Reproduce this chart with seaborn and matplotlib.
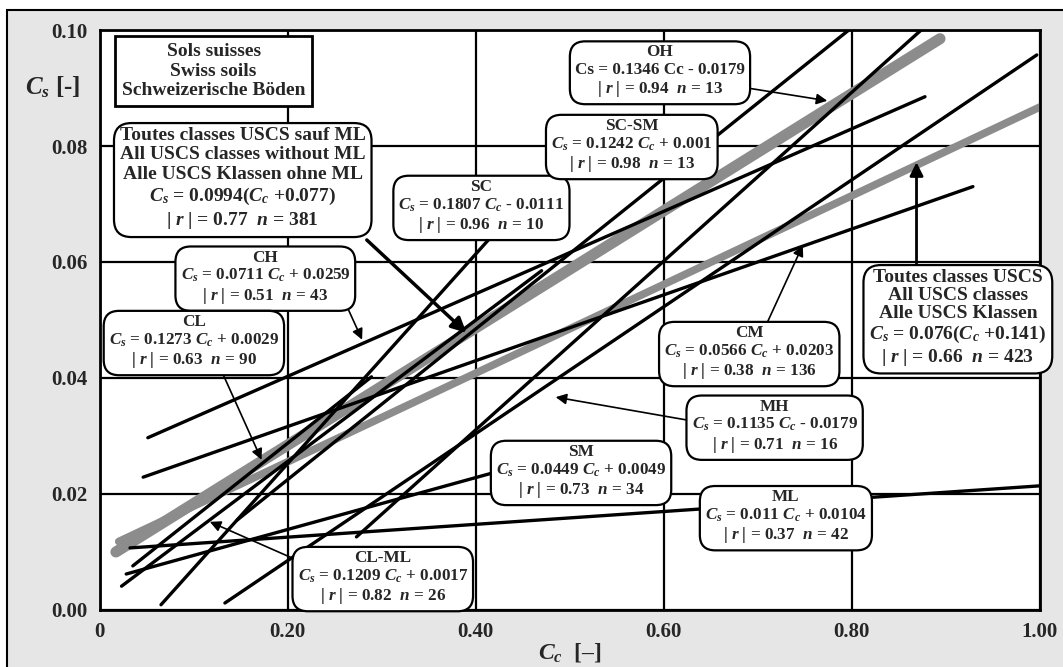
import numpy as np
import pandas as pd
import seaborn as sns
import matplotlib
matplotlib.use('Agg')
import matplotlib.pyplot as plt
from matplotlib.patches import Rectangle

# regression lines (Cc, Cs end points)
classes = ['OH', 'SC-SM', 'SC', 'CH', 'CL', 'CM', 'MH', 'SM', 'ML', 'CL-ML']
cc_start = [0.273, 0.146, 0.065, 0.051, 0.035, 0.046, 0.133, 0.028, 0.032, 0.023]
cs_start = [0.0126, 0.0155, 0.0009, 0.0297, 0.0076, 0.0229, 0.0012, 0.0062, 0.0107, 0.0041]
cc_end = [0.874, 0.797, 0.420, 0.878, 0.289, 0.929, 0.997, 0.500, 1.000, 0.470]
cs_end = [0.1000, 0.1000, 0.0650, 0.0885, 0.0402, 0.0730, 0.0957, 0.0273, 0.0214, 0.0585]

# the two grey "all classes" lines
all_noml_cc = [0.017, 0.894]
all_noml_cs = [0.0100, 0.0985]
all_cc = [0.020, 1.000]
all_cs = [0.0118, 0.0867]

xticks = [0, 0.2, 0.4, 0.6, 0.8, 1.0]
xtick_labels = ['0', '0.20', '0.40', '0.60', '0.80', '1.00']
yticks = [0, 0.02, 0.04, 0.06, 0.08, 0.10]
ytick_labels = ['0.00', '0.02', '0.04', '0.06', '0.08', '0.10']

sns.set_theme(style='white')
plt.rcParams['font.family'] = ['Liberation Serif', 'DejaVu Serif']
plt.rcParams['font.weight'] = 'bold'
plt.rcParams['mathtext.fontset'] = 'custom'
plt.rcParams['mathtext.it'] = 'Liberation Serif:italic:bold'
plt.rcParams['mathtext.rm'] = 'Liberation Serif:bold'
plt.rcParams['mathtext.bf'] = 'Liberation Serif:bold'

fig = plt.figure(figsize=(10.63, 6.67), dpi=100, facecolor='white')
#grey panel behind the plot
fig.patches.append(Rectangle((7 / 1063, -0.1), 1.2, 1.1 - 10 / 667, transform=fig.transFigure,
                             facecolor='#e6e6e6', edgecolor='black', lw=1.5, zorder=-5))
ax = fig.add_axes([0.094, 0.0855, 0.884, 0.8695])
ax.set_facecolor('white')

#grey lines
sns.lineplot(x=all_noml_cc, y=all_noml_cs, color='#8c8c8c', lw=8, ax=ax, zorder=2)
sns.lineplot(x=all_cc, y=all_cs, color='#8c8c8c', lw=5.5, ax=ax, zorder=2)

#black lines, one per USCS class
lines = pd.DataFrame({'cls': classes, 'x0': cc_start, 'y0': cs_start, 'x1': cc_end, 'y1': cs_end})
for _, r in lines.iterrows():
    sns.lineplot(x=[r.x0, r.x1], y=[r.y0, r.y1], color='black', lw=2.4, ax=ax, zorder=3)

ax.set_xlim(0, 1.0)
ax.set_ylim(0, 0.10)
ax.set_xticks(xticks)
ax.set_xticklabels(xtick_labels)
ax.set_yticks(yticks)
ax.set_yticklabels(ytick_labels)
ax.tick_params(labelsize=15, length=0, pad=9)
ax.grid(True, color='black', lw=1.6)
ax.set_axisbelow(True)
for s in ax.spines.values():
    s.set_color('black')
    s.set_linewidth(2)
ax.set_xlabel('')
ax.set_ylabel('')

fig.text(0.050, 0.869, r'$C_s$ [-]', fontsize=18, ha='center', va='center')
fig.text(0.536, 0.022, r'$C_c$  [–]', fontsize=17, ha='center', va='center')

rbox = dict(boxstyle='round,pad=0.3,rounding_size=0.9', fc='white', ec='black', lw=1.6)
sqbox = dict(boxstyle='square,pad=0.35', fc='white', ec='black', lw=2)

big = 14
small = 12.3
boxes = [
    ((0.121, 0.0929), 'Sols suisses\nSwiss soils\nSchweizerische Böden', sqbox, big, 1.2),
    ((0.152, 0.0743), 'Toutes classes USCS sauf ML\nAll USCS classes without ML\n'
                      'Alle USCS Klassen ohne ML\n$C_s$ = 0.0994($C_c$ +0.077)\n'
                      '| $r$ | = 0.77  $n$ = 381', rbox, big, 1.2),
    ((0.176, 0.0573), 'CH\n$C_s$ = 0.0711 $C_c$ + 0.0259\n| $r$ | = 0.51  $n$ = 43', rbox, small, 1.1),
    ((0.100, 0.0462), 'CL\n$C_s$ = 0.1273 $C_c$ + 0.0029\n| $r$ | = 0.63  $n$ = 90', rbox, small, 1.1),
    ((0.406, 0.0695), 'SC\n$C_s$ = 0.1807 $C_c$ - 0.0111\n| $r$ | = 0.96  $n$ = 10', rbox, small, 1.1),
    ((0.596, 0.0928), 'OH\nCs = 0.1346 Cc - 0.0179\n| $r$ | = 0.94  $n$ = 13', rbox, small, 1.1),
    ((0.566, 0.0800), 'SC-SM\n$C_s$ = 0.1242 $C_c$ + 0.001\n| $r$ | = 0.98  $n$ = 13', rbox, small, 1.1),
    ((0.691, 0.0443), 'CM\n$C_s$ = 0.0566 $C_c$ + 0.0203\n| $r$ | = 0.38  $n$ = 136', rbox, small, 1.1),
    ((0.913, 0.0503), 'Toutes classes USCS\nAll USCS classes\nAlle USCS Klassen\n'
                      '$C_s$ = 0.076($C_c$ +0.141)\n| $r$ | = 0.66  $n$ = 423', rbox, big, 1.1),
    ((0.718, 0.0316), 'MH\n$C_s$ = 0.1135 $C_c$ - 0.0179\n| $r$ | = 0.71  $n$ = 16', rbox, small, 1.1),
    ((0.512, 0.0238), 'SM\n$C_s$ = 0.0449 $C_c$ + 0.0049\n| $r$ | = 0.73  $n$ = 34', rbox, small, 1.1),
    ((0.730, 0.0160), 'ML\n$C_s$ = 0.011 $C_c$ + 0.0104\n| $r$ | = 0.37  $n$ = 42', rbox, small, 1.1),
    ((0.301, 0.0055), 'CL-ML\n$C_s$ = 0.1209 $C_c$ + 0.0017\n| $r$ | = 0.82  $n$ = 26', rbox, small, 1.1),
]
for (x, y), txt, bb, fs, ls in boxes:
    ax.text(x, y, txt, ha='center', va='center', multialignment='center', fontsize=fs,
            linespacing=ls, bbox=bb, zorder=6, clip_on=False)

# arrows: (start, tip, linewidth, head size)
arrows = [
    ((0.284, 0.0638), (0.390, 0.0478), 2.5, 22),
    ((0.261, 0.0530), (0.279, 0.0466), 1.2, 16),
    ((0.130, 0.0410), (0.172, 0.0259), 1.2, 16),
    ((0.689, 0.0900), (0.774, 0.0878), 1.2, 16),
    ((0.710, 0.0495), (0.748, 0.0629), 1.2, 16),
    ((0.869, 0.0597), (0.869, 0.0772), 2.0, 20),
    ((0.623, 0.0328), (0.485, 0.0367), 1.2, 16),
    ((0.204, 0.0090), (0.117, 0.0152), 1.2, 16),
]
for start, tip, lw, ms in arrows:
    ax.annotate('', xy=tip, xytext=start, xycoords='data', textcoords='data',
                arrowprops=dict(arrowstyle='-|>', color='black', lw=lw, mutation_scale=ms,
                                shrinkA=0, shrinkB=0), zorder=5)

fig.savefig('out.png', dpi=100)
